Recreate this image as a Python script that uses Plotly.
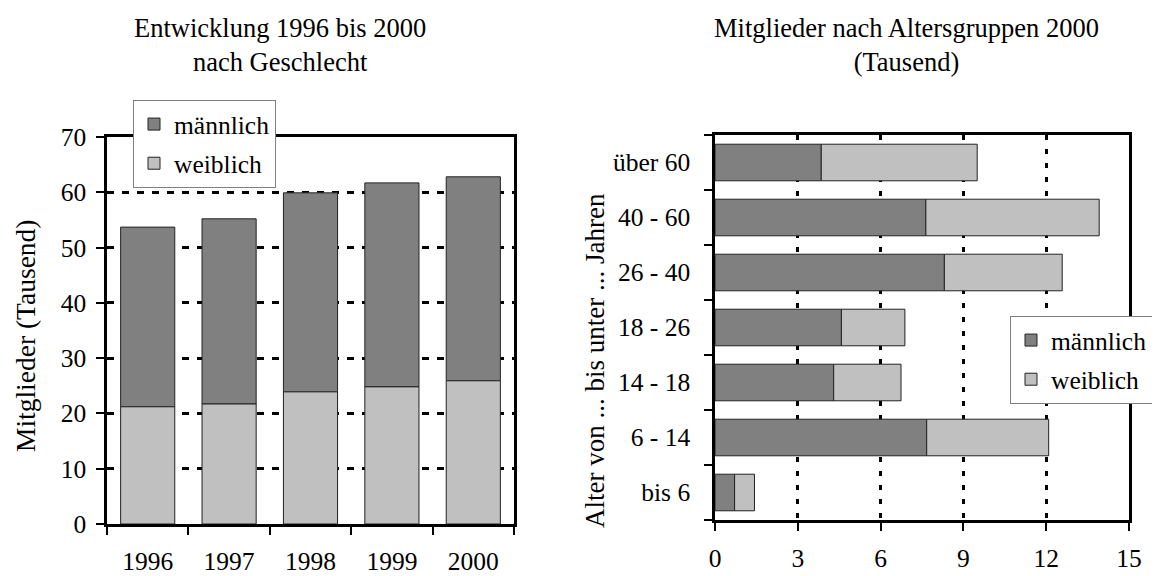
import plotly.graph_objects as go

# ---- data: left chart (Mitglieder nach Geschlecht, Tausend) ----
years = ["1996", "1997", "1998", "1999", "2000"]
weiblich_years = [21.2, 21.7, 23.9, 24.8, 25.9]
maennlich_years = [32.5, 33.5, 36.0, 36.9, 36.9]

# ---- data: right chart (Altersgruppen 2000, Tausend) ----
age_groups = ["bis 6", "6 - 14", "14 - 18", "18 - 26", "26 - 40", "40 - 60", "über 60"]
maennlich_age = [0.71, 7.67, 4.30, 4.58, 8.31, 7.64, 3.85]
weiblich_age = [0.72, 4.42, 2.44, 2.30, 4.27, 6.28, 5.65]

y_ticks_left = [0, 10, 20, 30, 40, 50, 60, 70]
x_ticks_right = [0, 3, 6, 9, 12, 15]

FONT = "Liberation Serif, Times New Roman, serif"
FS_TICK = 25.5
FS_TITLE = 26.5
FS_LEG = 25.5
C_M = "#808080"
C_W = "#C0C0C0"
EDGE = "#222222"

OFF = 8  # page body margin
W, H = 1160 - OFF, 576 - OFF

fig = go.Figure()

# left chart: weiblich at the base, männlich stacked on top (explicit base)
fig.add_trace(go.Bar(x=years, y=maennlich_years, base=weiblich_years, name="männlich",
                     marker=dict(color=C_M, line=dict(color=EDGE, width=1)),
                     xaxis="x", yaxis="y", legend="legend", legendgroup="m1"))
fig.add_trace(go.Bar(x=years, y=weiblich_years, name="weiblich",
                     marker=dict(color=C_W, line=dict(color=EDGE, width=1)),
                     xaxis="x", yaxis="y", legend="legend", legendgroup="w1"))

# right chart: männlich at the base, weiblich stacked after it
fig.add_trace(go.Bar(y=age_groups, x=maennlich_age, orientation="h", name="männlich",
                     marker=dict(color=C_M, line=dict(color=EDGE, width=1)),
                     xaxis="x2", yaxis="y2", legend="legend2", legendgroup="m2"))
fig.add_trace(go.Bar(y=age_groups, x=weiblich_age, orientation="h", name="weiblich", base=maennlich_age,
                     marker=dict(color=C_W, line=dict(color=EDGE, width=1)),
                     xaxis="x2", yaxis="y2", legend="legend2", legendgroup="w2"))

def px(v):
    return (v - OFF) / W

def py(v):
    return (H - (v - OFF)) / H

axis_common = dict(showline=True, linecolor="black", linewidth=2.5, mirror=True,
                   ticks="outside", ticklen=8, tickwidth=1.5, tickcolor="black", automargin=False,
                   tickfont=dict(family=FONT, size=FS_TICK, color="black"), zeroline=False)

fig.update_layout(
    template="none",
    width=W, height=H,
    margin=dict(l=0, r=0, t=0, b=0, pad=0),
    paper_bgcolor="white", plot_bgcolor="white",
    barmode="overlay", bargap=0.335,
    font=dict(family=FONT, size=FS_TICK, color="black"),
    xaxis=dict(domain=[px(107), px(514)], anchor="y", type="category", categoryorder="array",
               categoryarray=years, tickson="boundaries", showgrid=False, ticklabelstandoff=13, **axis_common),
    yaxis=dict(domain=[py(524), py(137)], anchor="x", range=[0, 70], tickvals=y_ticks_left,
               showgrid=True, gridcolor="black", gridwidth=3, griddash="7px,8px",
               ticklabelstandoff=5, **axis_common),
    xaxis2=dict(domain=[px(715), px(1129)], anchor="y2", range=[0, 15], tickvals=x_ticks_right,
                showgrid=True, gridcolor="black", gridwidth=3, griddash="5px,9px",
                ticklabelstandoff=6, **axis_common),
    yaxis2=dict(domain=[py(520), py(135)], anchor="x2", type="category", categoryorder="array",
                categoryarray=age_groups, tickson="boundaries", showgrid=False,
                ticklabelstandoff=17, **axis_common),
    legend=dict(x=px(133), y=py(100), xanchor="left", yanchor="top", bgcolor="white",
                bordercolor="#808080", borderwidth=1, traceorder="grouped", tracegroupgap=3,
                font=dict(family=FONT, size=FS_LEG, color="black")),
    legend2=dict(x=px(1010), y=py(316), xanchor="left", yanchor="top", bgcolor="white",
                 bordercolor="#808080", borderwidth=1, traceorder="grouped", tracegroupgap=3,
                 font=dict(family=FONT, size=FS_LEG, color="black")),
    showlegend=True,
)

annotations = [
    dict(text="Entwicklung 1996 bis 2000<br>nach Geschlecht", x=px(280), y=py(44.5), xref="paper", yref="paper",
         xanchor="center", yanchor="middle", showarrow=False, font=dict(family=FONT, size=FS_TITLE, color="black")),
    dict(text="Mitglieder nach Altersgruppen 2000<br>(Tausend)", x=px(906), y=py(44.5), xref="paper", yref="paper",
         xanchor="center", yanchor="middle", showarrow=False, font=dict(family=FONT, size=FS_TITLE, color="black")),
    dict(text="Mitglieder (Tausend)", x=px(25), y=py(336), xref="paper", yref="paper", textangle=-90,
         xanchor="center", yanchor="middle", showarrow=False, font=dict(family=FONT, size=27.5, color="black")),
    dict(text="Alter von ... bis unter ... Jahren", x=px(595), y=py(361), xref="paper", yref="paper", textangle=-90,
         xanchor="center", yanchor="middle", showarrow=False, font=dict(family=FONT, size=27, color="black")),
]
fig.update_layout(annotations=annotations)

fig.write_html("out.html")
